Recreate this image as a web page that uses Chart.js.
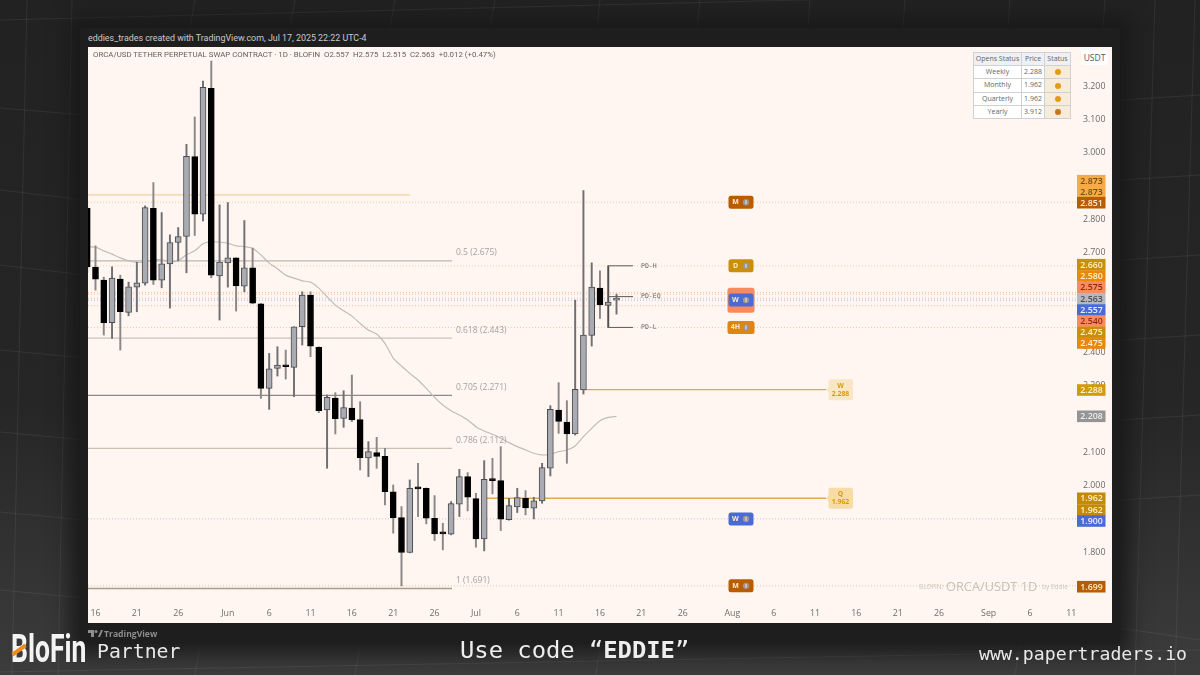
<!DOCTYPE html>
<html>
<head>
<meta charset="utf-8">
<script src="https://cdn.jsdelivr.net/npm/chart.js@4"></script>
<style>
html,body{margin:0;padding:0;width:1200px;height:675px;overflow:hidden;background:#2b2a2a;}
#bg{position:absolute;left:0;top:0;width:1200px;height:675px;background:linear-gradient(180deg,#232222 0%,#272626 60%,#3d3c3c 100%);}
#frame{position:absolute;left:80px;top:28px;width:1040px;height:616px;background:#1f1e1e;box-shadow:0 0 18px 10px rgba(24,24,24,.85);}
#pane{position:absolute;left:88px;top:47px;width:1024px;height:576px;background:#fff6f1;}
canvas{position:absolute;left:0;top:0;filter:blur(.25px);}
.t{position:absolute;white-space:nowrap;}
#hdr{left:88px;top:33px;font:8.9px Roboto,sans-serif;color:#c9c9c9;}
#ttl{left:93px;top:50px;font:7.85px Roboto,sans-serif;color:#5f5f5f;}
#usdt{left:1081px;top:50px;width:27px;height:15px;background:#fff;border-radius:3px;font:8.5px/15px "Open Sans",sans-serif;color:#555;text-align:center;}
#tbl{position:absolute;left:973px;top:52px;width:97px;height:67px;border-collapse:collapse;table-layout:fixed;font:7px "Open Sans",sans-serif;color:#666;background:#fff;}
#tbl td,#tbl th{border:1px solid #cfd1d5;padding:0;text-align:center;height:12px;line-height:12px;font-weight:400;}
#tbl th{background:#eef0f3;}
#tbl td.s{background:#f7ecd9;}
.dot{display:inline-block;width:6px;height:6px;border-radius:50%;vertical-align:middle;}
#code{left:460px;top:636px;font:23.8px "DejaVu Sans Mono",monospace;color:#eeeeee;letter-spacing:0;}
#code b{font-weight:700;}
#web{left:979px;top:643px;font:18.2px "DejaVu Sans Mono",monospace;color:#e8e8e8;}
#partner{left:97px;top:640px;font:19.8px "DejaVu Sans Mono",monospace;color:#e8e8e8;}
#logo{left:11px;top:626px;font:700 39px Roboto,sans-serif;color:#f4f4f4;transform:scaleX(.68);transform-origin:left top;}
#slash{position:absolute;left:11px;top:648px;width:16px;height:4px;background:#f08a1d;transform:rotate(-36deg);}
#tv{left:104px;top:628px;font:700 8.6px "Open Sans",sans-serif;color:#8d8d8d;}
</style>
</head>
<body>
<div id="bg">
<svg width="1200" height="675" style="position:absolute;left:0;top:0" stroke="#ffffff" stroke-opacity=".07" fill="none">
<path d="M0 20L1200 -10M0 108L85 115M0 190L85 200M0 265L85 275M0 350L85 358M0 432L85 440M0 512L85 520M0 590L85 598M0 672L1200 650"/>
<path d="M1120 100L1200 95M1120 180L1200 175M1120 260L1200 255M1120 340L1200 335M1120 420L1200 415M1120 500L1200 495M1120 628L1200 640"/>
<path d="M27 0L12 675M72 0L58 675M195 0L190 28M295 0L290 28M395 0L390 28M495 0L490 28M600 0L597 28M700 0L697 28M810 0L808 28M905 0L903 28M1010 0L1008 28M1105 0L1103 28"/>
<path d="M1155 0L1135 675M1195 0L1175 675M200 645L195 675M360 645L355 675M600 645L596 675M1020 645L1015 675"/>
</svg>
</div>
<div id="frame"></div>
<div id="pane"></div>
<div class="t" id="hdr">eddies_trades created with TradingView.com, Jul 17, 2025 22:22 UTC-4</div>
<canvas id="c" width="1200" height="675"></canvas>
<div class="t" id="ttl">ORCA/USD TETHER PERPETUAL SWAP CONTRACT · 1D · BLOFIN&nbsp; O2.557&nbsp; H2.575&nbsp; L2.515&nbsp; C2.563&nbsp; +0.012 (+0.47%)</div>
<div class="t" id="usdt">USDT</div>
<table id="tbl">
<colgroup><col style="width:48px"><col style="width:23px"><col style="width:26px"></colgroup>
<tr><th>Opens Status</th><th>Price</th><th>Status</th></tr>
<tr><td>Weekly</td><td>2.288</td><td class="s"><span class="dot" style="background:#e59a17"></span></td></tr>
<tr><td>Monthly</td><td>1.962</td><td class="s"><span class="dot" style="background:#e59a17"></span></td></tr>
<tr><td>Quarterly</td><td>1.962</td><td class="s"><span class="dot" style="background:#e59a17"></span></td></tr>
<tr><td>Yearly</td><td>3.912</td><td class="s"><span class="dot" style="background:#c9770f"></span></td></tr>
</table>
<svg style="position:absolute;left:88px;top:630px" width="15" height="8" fill="#8d8d8d"><path d="M0 0H6V7H3V3H0Z"/><circle cx="8" cy="1.5" r="1.5"/><path d="M10 7L13 0H15L12 7Z"/></svg>
<div class="t" id="tv">TradingView</div>
<div class="t" id="logo">BloFin</div>
<div id="slash"></div>
<div class="t" id="partner">Partner</div>
<div class="t" id="code">Use code “<b>EDDIE</b>”</div>
<div class="t" id="web">www.papertraders.io</div>

<script>
// ---- data (prices); first candle = 15 May, one candle per day ----
const candleDays = [-1,0,1,2,3,4,5,6,7,8,9,10,11,12,13,14,15,16,17,18,19,20,21,22,23,24,25,26,27,28,29,30,31,32,33,34,35,36,37,38,39,40,41,42,43,44,45,46,47,48,49,50,51,52,53,54,55,56,57,58,59,60,61,62,63];
const opens  = [2.833,2.656,2.617,2.489,2.620,2.520,2.596,2.608,2.833,2.617,2.666,2.730,2.748,2.988,2.815,3.193,2.630,2.669,2.684,2.599,2.654,2.546,2.292,2.352,2.360,2.355,2.477,2.572,2.415,2.227,2.263,2.202,2.233,2.198,2.083,2.099,2.088,1.981,1.904,1.799,1.991,1.992,1.902,1.856,1.854,1.944,2.027,1.961,1.840,2.018,2.015,1.898,1.936,1.962,1.932,1.954,2.052,2.227,2.191,2.155,2.287,2.451,2.593,2.541,2.557];
const highs  = [2.840,2.720,2.626,2.657,2.632,2.611,2.671,2.840,2.910,2.820,2.753,2.775,3.025,3.107,3.215,3.275,2.843,2.850,2.684,2.796,2.713,2.547,2.397,2.417,2.407,2.477,2.582,2.582,2.417,2.272,2.279,2.285,2.332,2.252,2.132,2.145,2.112,2.002,1.937,2.017,2.067,1.993,1.970,1.887,1.952,2.049,2.039,1.977,2.075,2.082,2.117,1.962,1.992,1.985,1.965,2.067,2.240,2.309,2.255,2.557,2.886,2.669,2.645,2.660,2.575];
const lows   = [2.640,2.587,2.452,2.442,2.407,2.510,2.522,2.602,2.604,2.594,2.533,2.675,2.639,2.751,2.795,2.624,2.497,2.596,2.524,2.582,2.546,2.262,2.229,2.329,2.320,2.267,2.422,2.387,2.219,2.052,2.155,2.175,2.192,2.047,2.027,2.052,1.942,1.857,1.699,1.798,1.907,1.885,1.835,1.807,1.852,1.907,1.924,1.815,1.804,1.975,1.865,1.896,1.919,1.912,1.900,1.947,2.029,2.157,2.067,2.152,2.275,2.419,2.502,2.475,2.515];
const closes = [2.657,2.620,2.489,2.623,2.522,2.597,2.609,2.835,2.617,2.666,2.730,2.748,2.989,2.815,3.196,2.632,2.671,2.684,2.600,2.654,2.548,2.292,2.351,2.362,2.357,2.477,2.572,2.419,2.225,2.265,2.201,2.234,2.197,2.084,2.102,2.088,1.982,1.904,1.799,1.992,1.990,1.902,1.855,1.855,1.946,2.027,1.965,1.840,2.019,2.015,1.899,1.940,1.964,1.933,1.954,2.054,2.229,2.193,2.155,2.289,2.452,2.596,2.543,2.551,2.563];
const maDays = [-1,0,1,2,3,4,5,6,7,8,9,10,11,12,13,14,15,16,17,18,19,20,21,22,23,24,25,26,27,28,29,30,31,32,33,34,35,36,37,38,39,40,41,42,43,44,45,46,47,48,49,50,51,52,53,54,55,56,57,58,59,60,61,62,63];
const maValues = [2.718,2.716,2.705,2.695,2.684,2.675,2.671,2.671,2.678,2.678,2.672,2.675,2.693,2.705,2.726,2.733,2.731,2.728,2.720,2.718,2.713,2.693,2.668,2.651,2.632,2.623,2.615,2.611,2.593,2.567,2.542,2.525,2.509,2.487,2.467,2.455,2.427,2.383,2.359,2.337,2.317,2.292,2.265,2.242,2.225,2.212,2.197,2.177,2.164,2.154,2.142,2.129,2.117,2.107,2.097,2.092,2.094,2.102,2.107,2.119,2.147,2.172,2.195,2.205,2.208];
const fibNames  = ["0.5 (2.675)","0.618 (2.443)","0.705 (2.271)","0.786 (2.112)","1 (1.691)"];
const fibPrices = [2.675,2.443,2.271,2.112,1.691];
const dottedPrices = [2.851,2.660,2.580,2.575,2.563,2.557,2.540,2.475,1.900,1.699];
const openLinePrices = [2.288,1.962];
const openLineStart  = [59,47];
const openLineNames  = ["W","Q"];
const yearHigh = 2.873;
const pdPrices = [2.660,2.5675,2.475];
const pdNames = ["PD-H","PD-EQ","PD-L"];
const pdStart = [62,62,62];
const markerNames  = ["M","D","W","W","4H","W","M"];
const markerPrices = [2.851,2.660,2.575,2.557,2.475,1.900,1.699];
const axisTagTexts = ["2.873","2.873","2.851","2.660","2.580","2.575","2.563","2.557","2.540","2.475","2.475","2.288","2.208","1.962","1.962","1.900","1.699"];
const tickDays   = [0,5,10,16,21,26,31,36,41,46,51,56,61,66,71,77,82,87,92,97,102,108,113,118];
const tickLabels = ["16","21","26","Jun","6","11","16","21","26","Jul","6","11","16","21","26","Aug","6","11","16","21","26","Sep","6","11"];
const priceTicks = [1.8,1.9,2.0,2.1,2.2,2.3,2.4,2.5,2.6,2.7,2.8,2.9,3.0,3.1,3.2];

// ---- styles ----
const dayPx = 8.27, firstPx = 95.5;
const xMin = (88-firstPx)/dayPx, xMax = (1076-firstPx)/dayPx, tagEndDay = (826-firstPx)/dayPx, fibEndDay = (452-firstPx)/dayPx, bracketEnd=(633-firstPx)/dayPx, yearEnd=(410-firstPx)/dayPx;
const fibColors = ["#bdb6b0","#c9c1b9","#8f8a85","#c9bfb4","#a89d91"];
const dottedColors = ["#f0c99a","#f3cfa6","#f5c7a0","#f7b9a0","#c4c6cc","#a9b6e2","#f7b9a0","#f0c99a","#c7c6d2","#e8c49c"];
const markerColors = ["#b85c00","#c98e0a","#f98a5e","#4a6bd6","#e0860f","#4a6bd6","#b85c00"];
const axisTagStyle = [
 [180.7,"#f8ab45","#6b4f15"],[191.7,"#f8ab45","#6b4f15"],[202.7,"#b85c00","#ffe9d2"],
 [264.7,"#c98e0a","#fff0c8"],[276,"#e8890c","#fff0d8"],[287.3,"#fb8a5e","#8c2a10"],
 [298.7,"#b6b8be","#4a4c55"],[310,"#4a6bd6","#eaf0ff"],[321,"#fb8a5e","#8c2a10"],
 [332.3,"#c98e0a","#fff0c8"],[343,"#e8890c","#fff0d8"],[390,"#d19a0a","#fff4d4"],
 [416.3,"#949494","#efefef"],[498.3,"#c48a06","#fff0c8"],[510,"#c48a06","#fff0c8"],
 [521,"#4a6bd6","#eaf0ff"],[586.7,"#b85c00","#ffe9d2"]];
const GREY="#a9abb2", EDGE="#4b4b4f";

const up = i => closes[i] >= opens[i];
const datasets = [];
// level lines
dottedPrices.forEach((p,i)=>datasets.push({type:'line',data:[{x:xMin,y:p},{x:xMax,y:p}],borderColor:dottedColors[i],borderWidth:1,borderDash:[1,2],pointRadius:0,order:9}));
fibPrices.forEach((p,i)=>datasets.push({type:'line',data:[{x:xMin,y:p},{x:fibEndDay,y:p}],borderColor:fibColors[i],borderWidth:1.3,pointRadius:0,order:8}));
datasets.push({type:'line',data:[{x:xMin,y:yearHigh},{x:yearEnd,y:yearHigh}],borderColor:"#f6cf9e",borderWidth:1.3,pointRadius:0,order:8});
openLinePrices.forEach((p,i)=>datasets.push({type:'line',data:[{x:openLineStart[i],y:p},{x:tagEndDay,y:p}],borderColor:"#e0a94c",borderWidth:1.3,pointRadius:0,order:7}));
pdPrices.forEach((p,i)=>datasets.push({type:'line',data:[{x:pdStart[i],y:p},{x:bracketEnd,y:p}],borderColor:"#5a5a5a",borderWidth:1,pointRadius:0,order:3}));
// moving average
datasets.push({type:'line',data:maDays.map((d,i)=>({x:d,y:maValues[i]})),borderColor:"#c2bcb7",borderWidth:1.2,pointRadius:0,tension:.2,order:6});
// wicks
datasets.push({type:'bar',grouped:false,barThickness:1.3,data:candleDays.map((d,i)=>({x:d,y:[lows[i],highs[i]]})),
  backgroundColor:candleDays.map((d,i)=>d===62?"#4f4f4f":(up(i)?"#6f6f74":"#8a8885")),order:5});
// bodies
datasets.push({type:'bar',grouped:false,barThickness:6,minBarLength:2,data:candleDays.map((d,i)=>({x:d,y:[opens[i],closes[i]]})),
  backgroundColor:candleDays.map((d,i)=>up(i)?GREY:"#000"),borderColor:candleDays.map((d,i)=>up(i)?EDGE:"#000"),borderWidth:1,borderSkipped:false,order:2});

function rr(ctx,x,y,w,h,r,c){ctx.fillStyle=c;ctx.beginPath();ctx.roundRect(x,y,w,h,r);ctx.fill();}

const overlay = {
  id:'overlay',
  afterDraw(chart){
    const ctx=chart.ctx, Y=chart.scales.y, X=chart.scales.x;
    ctx.save();
    ctx.textBaseline='middle';
    // fib labels
    ctx.font='8.5px "Open Sans",sans-serif';ctx.fillStyle='#a6a29e';ctx.textAlign='left';
    fibNames.forEach((n,i)=>ctx.fillText(n,X.getPixelForValue(fibEndDay)+4,Y.getPixelForValue(fibPrices[i])-8));
    // PD labels
    ctx.font='6.5px "DejaVu Sans Mono",monospace';ctx.fillStyle='#666';
    pdNames.forEach((n,i)=>ctx.fillText(n,641,Y.getPixelForValue(pdPrices[i])));
    // markers (backing W first so that the blue one stays on top)
    markerNames.forEach((n,i)=>{
      const y=Y.getPixelForValue(markerPrices[i]);
      const big = i===2;
      const w=(n==='4H'||big)?27:25, h=big?25:13;
      const cy = big? y+6 : y;
      rr(ctx,741-w/2,cy-h/2,w,h,2.5,markerColors[i]);
      if(big) return;
      ctx.font='700 7px "Open Sans",sans-serif';ctx.textAlign='center';ctx.fillStyle='#ffe9c9';
      ctx.fillText(n,735.5,y);
      ctx.fillStyle='#9a958f';ctx.beginPath();ctx.arc(746,y,3.2,0,7);ctx.fill();
      ctx.fillStyle='#eee';ctx.fillRect(745.5,y-2,1,4);
    });
    // open tags
    openLineNames.forEach((n,i)=>{
      const y=Y.getPixelForValue(openLinePrices[i]);
      ctx.fillStyle=i?'#f8dca6':'#f8e6c4';
      ctx.beginPath();ctx.moveTo(826,y);ctx.lineTo(829,y-3);ctx.lineTo(829,y+3);ctx.fill();
      rr(ctx,828.5,y-10.5,24.5,21,2,i?'#f8dca6':'#f8e6c4');
      ctx.fillStyle='#d79a12';ctx.textAlign='center';ctx.font='700 6.8px "Open Sans",sans-serif';
      ctx.fillText(n,840.5,y-4);ctx.fillText(openLinePrices[i].toFixed(3),840.5,y+4);
    });
    // watermark
    ctx.textAlign='left';ctx.fillStyle='#c9c6c3';
    ctx.font='6.5px "Open Sans",sans-serif';ctx.fillText('BLOFIN:',919,587);
    ctx.font='12.8px "Open Sans",sans-serif';ctx.fillStyle='#c4c1be';ctx.fillText('ORCA/USDT 1D',946,587);
    ctx.font='6.5px "Open Sans",sans-serif';ctx.fillStyle='#c9c6c3';ctx.fillText('by Eddie',1042,587);
    // price scale tags
    ctx.font='600 8.8px "Open Sans",sans-serif';ctx.textAlign='center';
    axisTagTexts.forEach((t,i)=>{
      const [y,bg,fg]=axisTagStyle[i];
      ctx.fillStyle=bg;ctx.fillRect(1077,y-5.8,28.5,11.6);
      ctx.fillStyle=fg;ctx.fillText(t,1091.5,y+.3);
    });
    ctx.restore();
  }
};

new Chart(document.getElementById('c'),{
  data:{datasets},
  plugins:[overlay],
  options:{
    responsive:false,animation:false,devicePixelRatio:1,
    layout:{padding:{left:88,top:47,right:88,bottom:52}},
    plugins:{legend:{display:false},tooltip:{enabled:false},title:{display:false}},
    scales:{
      x:{type:'linear',offset:false,min:xMin,max:xMax,grid:{display:false,drawTicks:false,offset:false},border:{display:false},
        afterBuildTicks(s){s.ticks=tickDays.map(v=>({value:v}));},
        afterFit(s){s.height=20;},
        ticks:{autoSkip:false,maxRotation:0,padding:5,font:{family:'"Open Sans",sans-serif',size:8.8},color:'#6e6e6e',
          callback(v){return tickLabels[tickDays.indexOf(v)];}}},
      y:{type:'linear',position:'right',min:3.2-(603-86)/333,max:3.2+(86-47)/333,grid:{display:false,drawTicks:false},border:{display:false},
        afterBuildTicks(s){s.ticks=priceTicks.map(v=>({value:v}));},
        afterFit(s){s.width=36;},
        ticks:{padding:7,font:{family:'"Open Sans",sans-serif',size:8.8},color:'#6a6a6a',
          callback(v){return v.toFixed(3);}}}
    }
  }
});
</script>
</body>
</html>
